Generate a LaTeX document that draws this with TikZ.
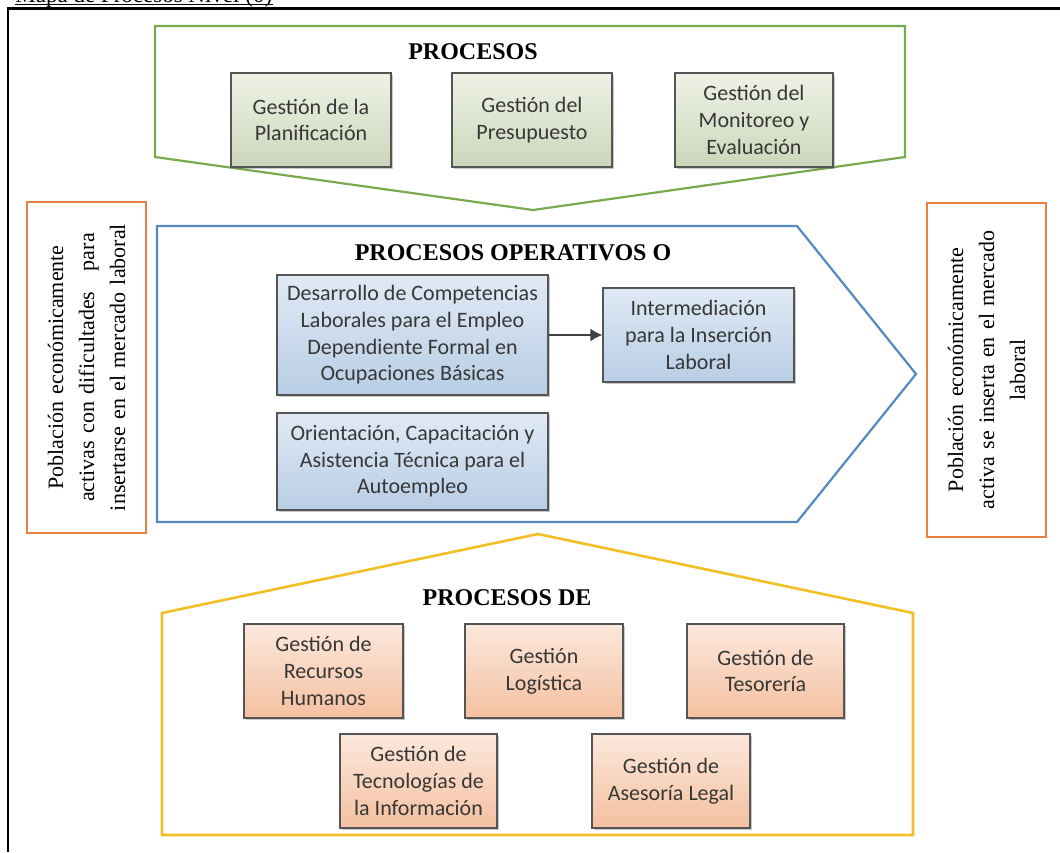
\documentclass[tikz,border=0pt]{standalone}
\usepackage{fontspec}
\setmainfont{Liberation Serif}
\newfontfamily\calibri{Carlito}
\usetikzlibrary{shadows,arrows.meta}
\definecolor{grline}{RGB}{122,170,78}
\definecolor{blline}{RGB}{84,138,192}
\definecolor{yeline}{RGB}{242,192,36}
\definecolor{orline}{RGB}{232,128,64}
\definecolor{boxline}{RGB}{85,85,85}
\definecolor{boxtext}{RGB}{55,55,55}
\definecolor{gtop}{RGB}{238,242,230}
\definecolor{gbot}{RGB}{204,214,186}
\definecolor{btop}{RGB}{224,234,245}
\definecolor{bbot}{RGB}{184,205,229}
\definecolor{otop}{RGB}{252,232,220}
\definecolor{obot}{RGB}{244,192,160}
\definecolor{arrowgray}{RGB}{64,64,64}
\tikzset{
  pbox/.style={draw=boxline, line width=0.6pt,
    drop shadow={shadow xshift=1pt, shadow yshift=-1pt, opacity=0.35, fill=black!60},
    font=\calibri\fontsize{11}{13.3}\selectfont, text=boxtext, align=center, inner sep=2pt},
  gbox/.style={pbox, top color=gtop, bottom color=gbot},
  bbox/.style={pbox, top color=btop, bottom color=bbot},
  obox/.style={pbox, top color=otop, bottom color=obot},
  ttl/.style={font=\bfseries\fontsize{12}{14}\selectfont, inner sep=0pt},
  sidebox/.style={draw=orline, line width=1.2pt, rotate=90, align=center,
    text width=158pt, inner sep=0pt, font=\fontsize{11}{15.5}\selectfont},
}
\begin{document}
\begin{tikzpicture}[x=0.5pt,y=-0.5pt]
\useasboundingbox (0,0) rectangle (1060,852);
\clip (0,0) rectangle (1060,852);
\fill[white] (0,0) rectangle (1060,852);

% caption (cut by the top edge)
\node[anchor=base west, inner sep=0pt, font=\fontsize{11.5}{13}\selectfont] (cap) at (15,2.5) {Mapa de Procesos Nivel (0)};
\draw[line width=0.5pt] ([yshift=-0.9pt]cap.base west) -- ([yshift=-0.9pt]cap.base east);

% frame
\draw[line width=1.25pt] (8,852) -- (8,8.5) -- (1060,8.5);

% green chevron (top)
\draw[grline, line width=1.1pt, line join=miter] (155,26) -- (905,26) -- (905,157) -- (533,210) -- (155,157) -- cycle;
\node[ttl] (t1) at (473,52) {PROCESOS};
\node[gbox, minimum width=80pt, minimum height=47pt] (g1) at (311,120) {Gestión de la\\Planificación};
\node[gbox, minimum width=80pt, minimum height=47pt] (g2) at (532,120) {Gestión del\\Presupuesto};
\node[gbox, minimum width=79pt, minimum height=47pt] (g3) at (754,120) {Gestión del\\Monitoreo y\\Evaluación};

% blue chevron (middle)
\draw[blline, line width=1.1pt, line join=miter] (157,226) -- (797,226) -- (916,374) -- (797,522) -- (157,522) -- cycle;
\node[ttl] (t2) at (513,253) {PROCESOS OPERATIVOS O};
\node[bbox, minimum width=135.5pt, minimum height=60pt] (b1) at (412.5,335) {Desarrollo de Competencias\\Laborales para el Empleo\\Dependiente Formal en\\Ocupaciones Básicas};
\node[bbox, minimum width=95.5pt, minimum height=47pt] (b2) at (698.5,335) {Intermediación\\para la Inserción\\Laboral};
\node[bbox, minimum width=135.5pt, minimum height=48.5pt] (b3) at (412.5,461.5) {Orientación, Capacitación y\\Asistencia Técnica para el\\Autoempleo};
\draw[arrowgray, line width=0.8pt, -{Latex[length=6pt,width=6.5pt]}] (b1.east) -- (b2.west);

% yellow house (bottom)
\draw[yeline, line width=1.3pt, line join=miter] (538,534) -- (913,613) -- (913,835) -- (162,835) -- (162,613) -- cycle;
\node[ttl] (t3) at (507,598) {PROCESOS DE};
\node[obox, minimum width=79.5pt, minimum height=47pt] (o1) at (323.5,671) {Gestión de\\Recursos\\Humanos};
\node[obox, minimum width=79pt, minimum height=47pt] (o2) at (544,671) {Gestión\\Logística};
\node[obox, minimum width=78.5pt, minimum height=47pt] (o3) at (765.5,671) {Gestión de\\Tesorería};
\node[obox, minimum width=78.5pt, minimum height=47pt] (o4) at (418.5,781) {Gestión de\\Tecnologías de\\la Información};
\node[obox, minimum width=79pt, minimum height=47pt] (o5) at (671,781) {Gestión de\\Asesoría Legal};

% side boxes
\node[sidebox, minimum width=165.5pt, minimum height=59.5pt] (sl) at (86.5,367.5)
  {Población económicamente\\activas con dificultades\hspace{0.6em} para\\insertarse en el mercado laboral};
\node[sidebox, minimum width=167pt, minimum height=59.5pt] (sr) at (986.5,370)
  {Población económicamente\\activa se inserta en el mercado\\laboral};
\end{tikzpicture}
\end{document}
